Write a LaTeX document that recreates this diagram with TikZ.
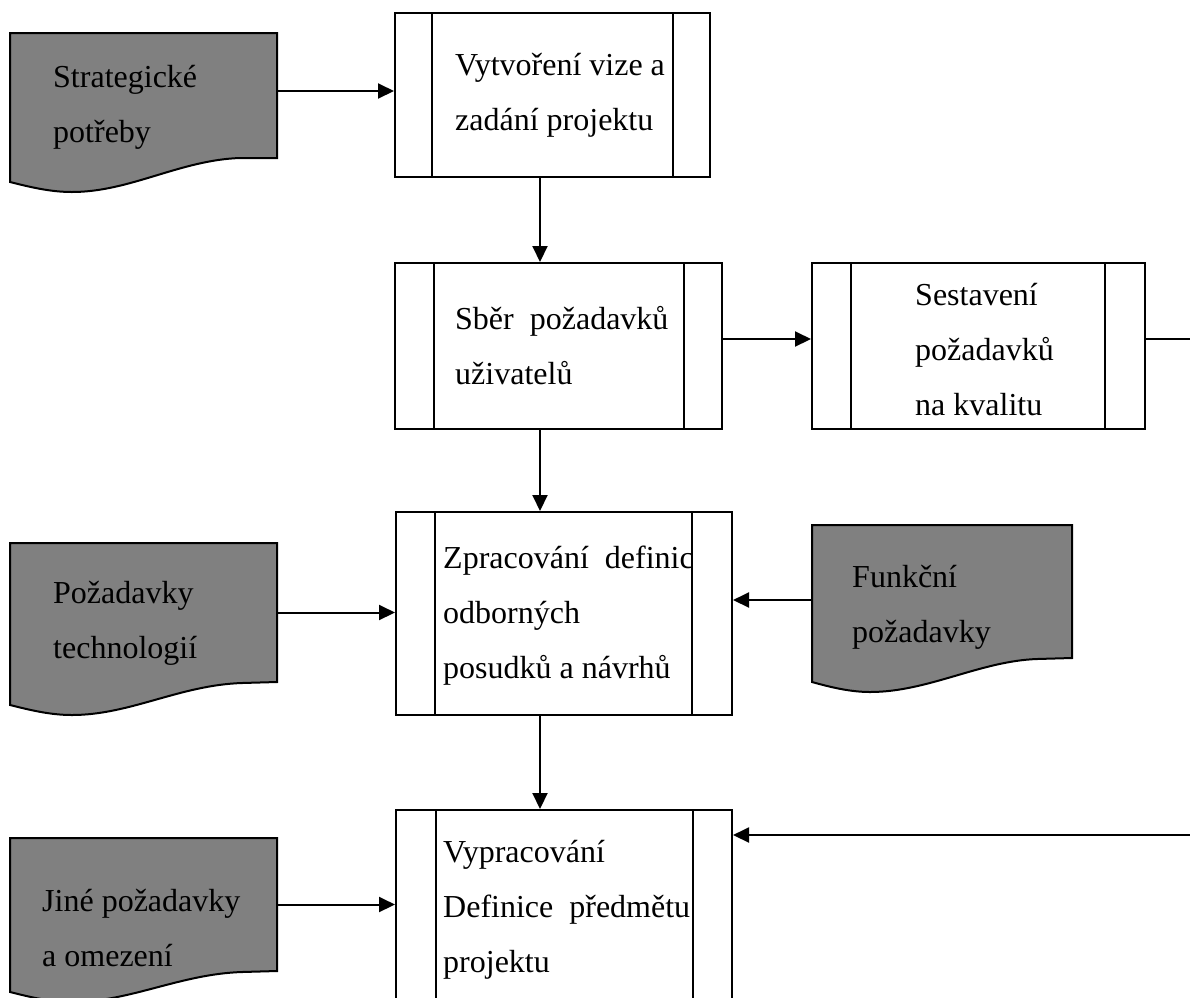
\documentclass[tikz,border=0pt]{standalone}
\usepackage{fontspec}
\setmainfont{Liberation Serif}
\usetikzlibrary{arrows.meta}

\tikzset{
  procbox/.style={draw, line width=2pt, rectangle, inner sep=0pt},
  docarea/.style={rectangle, inner sep=0pt},
  docshape/.style={draw, line width=2pt, fill={rgb, 255:red, 128; green, 128; blue, 128}},
  lbl/.style={anchor=west, inner sep=0pt, align=left, font=\fontsize{32}{55}\selectfont},
  conn/.style={line width=2pt},
  arr/.style={conn, -{Triangle[length=16pt,width=15pt]}},
}

\begin{document}
\begin{tikzpicture}[x=1pt,y=1pt,yscale=-1]
        \useasboundingbox (0,0) rectangle (1190,997);
        \clip (0,0) rectangle (1190,997);
        %Shape: Document [strat]
        \draw[docshape] (10,33) -- (277,33) -- (277,158) -- (240,158) .. controls (180,160) and (130,192) .. (72,192) .. controls (50,192) and (30,187) .. (10,182) -- cycle ;
        \node[docarea, minimum width=267pt, minimum height=125pt] (strat) at (143.5,95.5) {};
        %Shape: Document [tech]
        \draw[docshape] (10,543) -- (277,543) -- (277,682) -- (242,683) .. controls (180,685) and (130,715) .. (72,715) .. controls (50,715) and (30,710) .. (10,705) -- cycle ;
        \node[docarea, minimum width=267pt, minimum height=139pt] (tech) at (143.5,612.5) {};
        %Shape: Document [funk]
        \draw[docshape] (812,525) -- (1072,525) -- (1072,658) -- (1037,659) .. controls (980,661) and (928,692) .. (870,692) .. controls (850,692) and (830,687) .. (812,682) -- cycle ;
        \node[docarea, minimum width=260pt, minimum height=133pt] (funk) at (942,591.5) {};
        %Shape: Document [jine]
        \draw[docshape] (10,838) -- (277,838) -- (277,971) -- (242,972) .. controls (180,974) and (130,1002) .. (72,1002) .. controls (50,1002) and (30,997) .. (10,992) -- cycle ;
        \node[docarea, minimum width=267pt, minimum height=133pt] (jine) at (143.5,904.5) {};

        %Shape: Process [vize]
        \node[procbox, minimum width=315pt, minimum height=164pt] (vize) at (552.5,95) {};
        \draw[line width=2pt] ([xshift=38pt]vize.north west) -- ([xshift=38pt]vize.south west) ;
        \draw[line width=2pt] ([xshift=-38pt]vize.north east) -- ([xshift=-38pt]vize.south east) ;
        %Shape: Process [sber]
        \node[procbox, minimum width=327pt, minimum height=166pt] (sber) at (558.5,346) {};
        \draw[line width=2pt] ([xshift=40pt]sber.north west) -- ([xshift=40pt]sber.south west) ;
        \draw[line width=2pt] ([xshift=-39pt]sber.north east) -- ([xshift=-39pt]sber.south east) ;
        %Shape: Process [kval]
        \node[procbox, minimum width=333pt, minimum height=166pt] (kval) at (978.5,346) {};
        \draw[line width=2pt] ([xshift=40pt]kval.north west) -- ([xshift=40pt]kval.south west) ;
        \draw[line width=2pt] ([xshift=-41pt]kval.north east) -- ([xshift=-41pt]kval.south east) ;
        %Shape: Process [zprac]
        \node[procbox, minimum width=336pt, minimum height=203pt] (zprac) at (564,613.5) {};
        \draw[line width=2pt] ([xshift=40pt]zprac.north west) -- ([xshift=40pt]zprac.south west) ;
        \draw[line width=2pt] ([xshift=-41pt]zprac.north east) -- ([xshift=-41pt]zprac.south east) ;
        %Shape: Process [defin]
        \node[procbox, minimum width=336pt, minimum height=270pt] (defin) at (564,945) {};
        \draw[line width=2pt] ([xshift=41pt]defin.north west) -- ([xshift=41pt]defin.south west) ;
        \draw[line width=2pt] ([xshift=-40pt]defin.north east) -- ([xshift=-40pt]defin.south east) ;

        % Text Node
        \node[lbl] (strattext) at (53,107) {Strategické\\potřeby};
        % Text Node
        \node[lbl] (vizetext) at (455,95) {Vytvoření vize a\\zadání projektu};
        % Text Node
        \node[lbl] (sbertext) at (455,345.5) {Sběr\ \ požadavků\\uživatelů};
        % Text Node
        \node[lbl] (kvaltext) at (915,350) {Sestavení\\požadavků\\na kvalitu};
        % Text Node
        \node[lbl] (zpractext) at (443,616) {Zpracování\ \ definic\\odborných\\posudků a návrhů};
        % Text Node
        \node[lbl] (techtext) at (53,623.5) {Požadavky\\technologií};
        % Text Node
        \node[lbl] (funktext) at (852,607) {Funkční\\požadavky};
        % Text Node
        \node[lbl] (jinetext) at (42,928) {Jiné požadavky\\a omezení};
        % Text Node
        \node[lbl] (defintext) at (443,910) {Vypracování\\Definice\ \ předmětu\\projektu};

        %Connectors
        \coordinate (kvalout) at (1190,339);
        \coordinate (definin) at (1190,835);
        \draw[arr] ([yshift=-4.5pt]strat.east) -- ([yshift=-4.5pt]strat.east -| vize.west) ;
        \draw[arr] ([xshift=-12.5pt]vize.south) -- ([xshift=-12.5pt]vize.south |- sber.north) ;
        \draw[arr] ([yshift=-7pt]sber.east) -- ([yshift=-7pt]sber.east -| kval.west) ;
        \draw[conn] (kvalout -| kval.east) -- (kvalout) ;
        \draw[arr] ([xshift=-18.5pt]sber.south) -- ([xshift=-18.5pt]sber.south |- zprac.north) ;
        \draw[arr] (tech.east) -- (tech.east -| zprac.west) ;
        \draw[arr] ([yshift=8.5pt]funk.west) -- ([yshift=8.5pt]funk.west -| zprac.east) ;
        \draw[arr] ([xshift=-24pt]zprac.south) -- ([xshift=-24pt]zprac.south |- defin.north) ;
        \draw[arr] (jine.east) -- (jine.east -| defin.west) ;
        \draw[arr] (definin) -- (definin -| defin.east) ;
\end{tikzpicture}
\end{document}
